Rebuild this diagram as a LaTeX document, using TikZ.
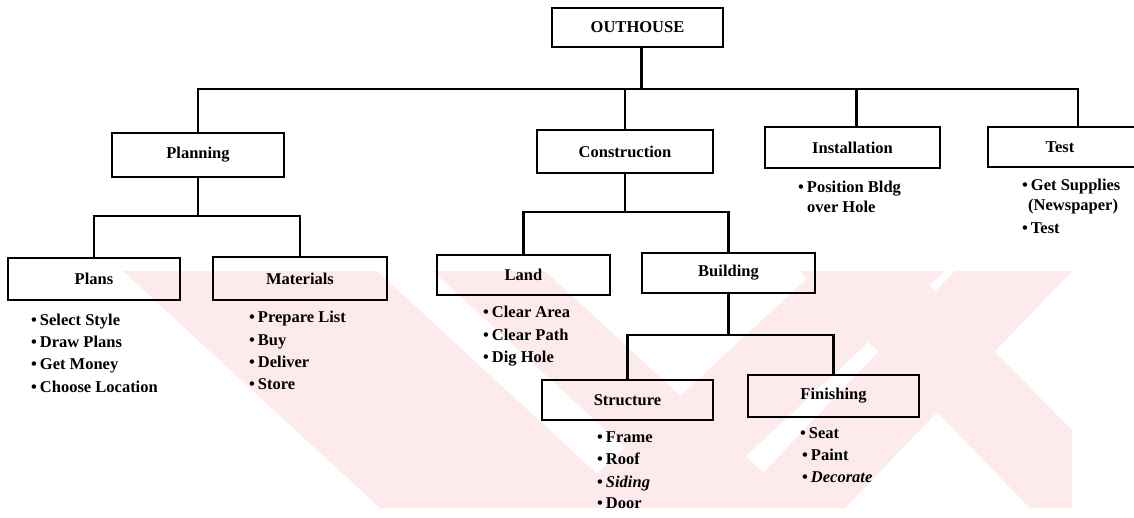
\documentclass[tikz,border=0pt]{standalone}
\usepackage{fontspec}
\setmainfont{Liberation Serif}
\newcommand\boxfont{\fontsize{16.5}{19}\selectfont\bfseries}
\newcommand\itemfont{\fontsize{16.5}{19}\selectfont\bfseries}
\newcommand\bul{\textbullet\kern3pt}
\definecolor{wm}{RGB}{253,234,237}
\begin{document}
\begin{tikzpicture}[x=1pt,y=-1pt,
  box/.style={draw, line width=2.5pt, inner sep=0pt, font=\boxfont},
  conn/.style={line width=2.5pt},
  item/.style={anchor=base west, inner sep=0pt, font=\itemfont},
  wmark/.style={fill=wm, draw=none}]
\useasboundingbox (0,0) rectangle (1134,517);
\fill[white] (0,0) rectangle (1134,517);
% watermark (approximate)
\fill[wmark] (123,271) -- (377,271) -- (634,508) -- (380,508) -- cycle;
\fill[wmark] (433,271) -- (545,271) -- (802,508) -- (690,508) -- cycle;
\fill[wmark] (560,508) -- (690,508) -- (945,271) -- (815,271) -- cycle;
\fill[wmark] (800,271) -- (915,271) -- (1072,430) -- (1072,508) -- (1030,508) -- cycle;
\fill[wmark] (955,271) -- (1072,271) -- (845,508) -- (730,508) -- cycle;
% boxes
\node[box, minimum width=171pt, minimum height=39pt] (out) at (637.5,27.5) {OUTHOUSE};
\node[box, minimum width=172pt, minimum height=44pt] (plan) at (198,155) {Planning};
\node[box, minimum width=176pt, minimum height=43pt] (cons) at (625,151.5) {Construction};
\node[box, minimum width=175pt, minimum height=41pt] (inst) at (852.5,147.5) {Installation};
\node[box, minimum width=152pt, minimum height=40pt] (test) at (1064,147) {\kern-8pt Test};
\node[box, minimum width=172pt, minimum height=42pt] (plans) at (94,279) {Plans};
\node[box, minimum width=174pt, minimum height=43pt] (mat) at (300,278.5) {Materials};
\node[box, minimum width=173pt, minimum height=40pt] (land) at (523.5,275) {Land};
\node[box, minimum width=173pt, minimum height=40pt] (bld) at (728.5,273) {Building};
\node[box, minimum width=171pt, minimum height=40pt] (str) at (627.5,400) {Structure};
\node[box, minimum width=171pt, minimum height=42pt] (fin) at (833.5,396) {Finishing};
% connectors
\coordinate (bus) at (0,89);
\coordinate (tv) at ([xshift=14pt]test.north);
\coordinate (iv) at ([xshift=4pt]inst.north);
\coordinate (ov) at ([xshift=4pt]out.south);
\draw[conn] (ov) -- (ov |- bus);
\draw[conn] (plan.north) |- (tv |- bus) -- (tv);
\draw[conn] (cons.north) -- (cons.north |- bus);
\draw[conn] (iv) -- (iv |- bus);
\coordinate (pb) at (0,216);
\draw[conn] (plan.south) -- (plan.south |- pb);
\draw[conn] (plans.north) |- (mat.north |- pb) -- (mat.north);
\coordinate (cb) at (0,212);
\draw[conn] (cons.south) -- (cons.south |- cb);
\draw[conn] (land.north) |- (bld.north |- cb) -- (bld.north);
\coordinate (bb) at (0,335);
\draw[conn] (bld.south) -- (bld.south |- bb);
\draw[conn] (str.north) |- (fin.north |- bb) -- (fin.north);
% items
\node[item] (p1) at (31,325) {\bul Select Style};
\node[item] (p2) at (31,347) {\bul Draw Plans};
\node[item] (p3) at (31,369) {\bul Get Money};
\node[item] (p4) at (31,392) {\bul Choose Location};
\node[item] (m1) at (249,322) {\bul Prepare List};
\node[item] (m2) at (249,345) {\bul Buy};
\node[item] (m3) at (249,367) {\bul Deliver};
\node[item] (m4) at (249,389) {\bul Store};
\node[item] (l1) at (483,317) {\bul Clear Area};
\node[item] (l2) at (483,340) {\bul Clear Path};
\node[item] (l3) at (483,362) {\bul Dig Hole};
\node[item] (s1) at (597,442) {\bul Frame};
\node[item] (s2) at (597,464) {\bul Roof};
\node[item] (s3) at (597,487) {\bul\textit{Siding}};
\node[item] (s4) at (597,508) {\bul Door};
\node[item] (f1) at (800,438) {\bul Seat};
\node[item] (f2) at (802,460) {\bul Paint};
\node[item] (f3) at (802,482) {\bul\textit{Decorate}};
\node[item] (i1) at (798,192) {\bul Position Bldg};
\node[item] (i2) at (807,212) {over Hole};
\node[item] (t1) at (1022,190) {\bul Get Supplies};
\node[item] (t2) at (1028,210) {(Newspaper)};
\node[item] (t3) at (1022,233) {\bul Test};
\end{tikzpicture}
\end{document}
